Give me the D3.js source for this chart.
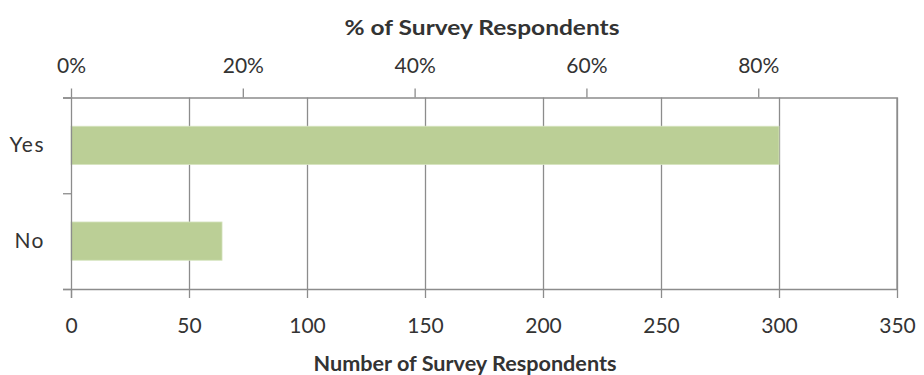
<!DOCTYPE html>
<html><head><meta charset="utf-8">
<script src="https://cdn.jsdelivr.net/npm/d3@7"></script>
<style>
body{margin:0;background:#fff;}
text{font-family:Lato,"Open Sans",sans-serif;fill:#333;}
</style></head>
<body><svg id="c" width="924" height="375"></svg>
<script>
const categories = ["Yes","No"];
const values = [300, 64];
const countTicks = [0,50,100,150,200,250,300,350];
const pctTicks = [0,0.2,0.4,0.6,0.8];
const topTitle = "% of Survey Respondents";
const bottomTitle = "Number of Survey Respondents";

const total = d3.sum(values);
const m = {left:71, right:27, top:97.5, bottom:86};
const W = 924, H = 375;
const FS = 21;
const svg = d3.select("#c");
const x = d3.scaleLinear().domain([0,350]).range([m.left, W-m.right]);
const xp = d3.scaleLinear().domain([0,350/total]).range([m.left, W-m.right]);
const y = d3.scaleBand().domain(categories).range([m.top, H-m.bottom]).paddingInner(0.6).paddingOuter(0.3);
const grey = "#8c8c8c";

// gridlines
svg.append("g").selectAll("line").data(countTicks.slice(1)).join("line")
  .attr("x1",d=>Math.round(x(d))+0.5).attr("x2",d=>Math.round(x(d))+0.5)
  .attr("y1",m.top).attr("y2",H-m.bottom).attr("stroke",grey).attr("stroke-width",1.3);

// bars
svg.append("g").selectAll("rect").data(categories).join("rect")
  .attr("x",x(0)).attr("y",d=>y(d)).attr("height",y.bandwidth())
  .attr("width",(d,i)=>x(values[i])-x(0))
  .attr("fill","#bbcf96").attr("stroke","#d6e4bf").attr("stroke-width",0.8);

// bottom axis
const bAxis = svg.append("g").attr("transform",`translate(0,${H-m.bottom})`)
  .call(d3.axisBottom(x).tickValues(countTicks).tickSize(9).tickSizeOuter(0));
bAxis.select(".domain").attr("d",`M${m.left-8},0.5H${W-m.right}`);
bAxis.selectAll(".tick text").attr("y",44).attr("dy",0);
// top axis
const tAxis = svg.append("g").attr("transform",`translate(0,${m.top})`)
  .call(d3.axisTop(xp).tickValues(pctTicks).tickFormat(d3.format(".0%")).tickSize(9).tickSizeOuter(0));
tAxis.select(".domain").attr("d",`M${m.left-8},0.5H${W-m.right}V${H-m.bottom-m.top}`);
tAxis.selectAll(".tick text").attr("y",-24.5).attr("dy",0);
// left axis
const lAxis = svg.append("g").attr("transform",`translate(${m.left},0)`)
  .call(d3.axisLeft(y).tickSize(0).tickPadding(26));
lAxis.select(".domain").attr("d",`M0.5,${m.top}V${H-m.bottom+9}`);
// category boundary ticks
svg.append("g").selectAll("line").data([m.top, (m.top+H-m.bottom)/2, H-m.bottom]).join("line")
  .attr("x1",m.left-8).attr("x2",m.left).attr("y1",d=>d+0.5).attr("y2",d=>d+0.5).attr("stroke",grey).attr("stroke-width",1.3);

svg.selectAll(".domain, .tick line").attr("stroke",grey).attr("stroke-width",1.3);
svg.selectAll(".tick text").attr("font-size",FS).attr("fill","#333").style("font-family","Lato, sans-serif");
lAxis.selectAll(".tick text").attr("letter-spacing",1.5);

svg.append("text").attr("x",482).attr("y",35).attr("text-anchor","middle")
  .attr("font-size",FS).attr("font-weight","bold").attr("fill","#222")
  .attr("textLength",275).attr("lengthAdjust","spacingAndGlyphs").text(topTitle);
svg.append("text").attr("x",465).attr("y",371).attr("text-anchor","middle")
  .attr("font-size",FS).attr("font-weight","bold").attr("fill","#222")
  .attr("textLength",303).attr("lengthAdjust","spacingAndGlyphs").text(bottomTitle);
</script></body></html>
